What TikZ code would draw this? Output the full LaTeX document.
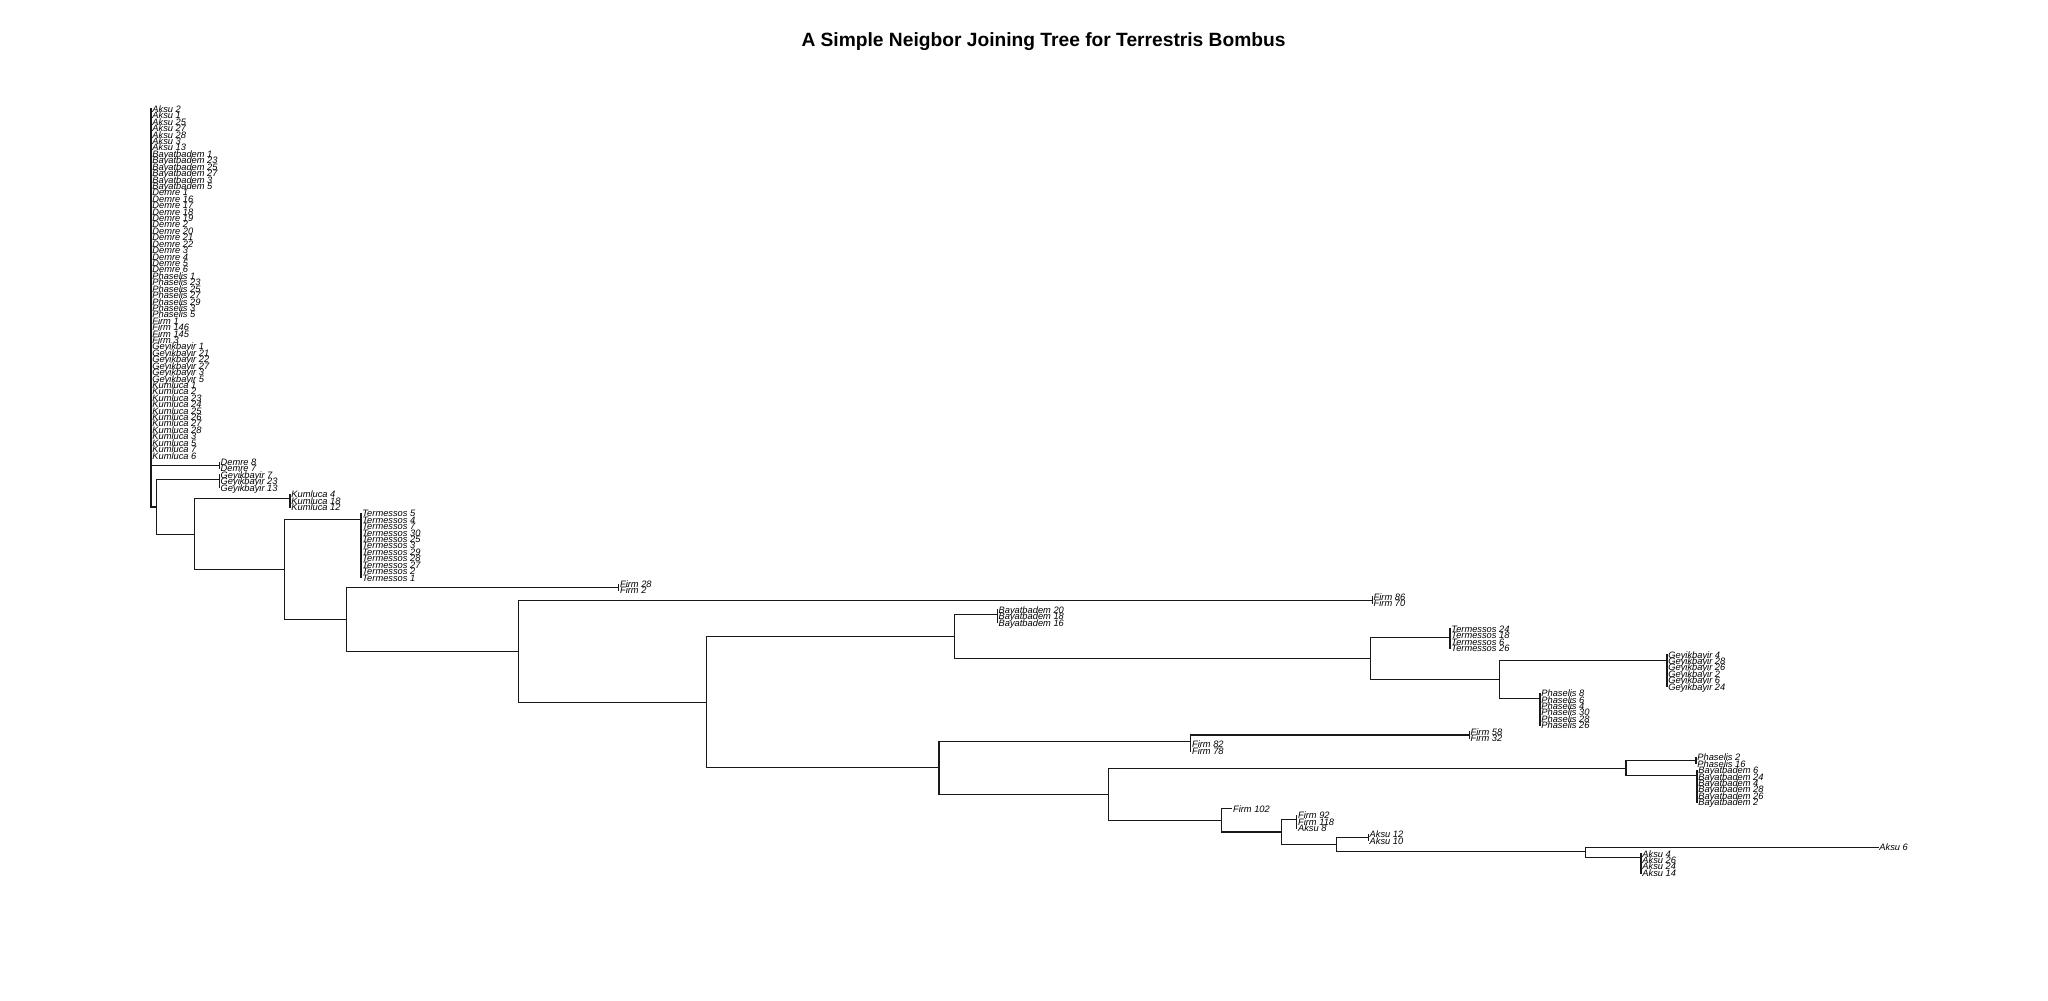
\documentclass[tikz,border=0pt]{standalone}
\usepackage{fontspec}
\setmainfont{Liberation Sans}
% one clade of zero-length tips: labels stacked at x = #2 from tip #3 on, joined by a bar
\newcommand\tipclade[4]{%
  \foreach \lab [count=\k from 0] in {#4}{%
    \node[tip] (#1-\k) at (#2,{109+(#3+\k-1)*6.42}) {\lab};
    \xdef\cladelast{\k}%
  }%
  \draw[br] (#1-0.west) -- (#1-\cladelast.west);
}
\begin{document}
\begin{tikzpicture}[x=0.5pt,y=-0.5pt,
  br/.style={line width=0.55pt, draw=black!90, line cap=rect},
  tip/.style={anchor=west, inner xsep=0.5pt, inner ysep=0pt, text height=3.4pt, text depth=0pt,
              font=\fontsize{4.65}{4.65}\selectfont\itshape, text=black},
  ttl/.style={font=\fontsize{9.6}{11}\selectfont\bfseries, inner sep=0pt}]
\useasboundingbox (0,0) rectangle (2048,1000);

\node[ttl] (title) at (1043.5,41.5) {A Simple Neigbor Joining Tree for Terrestris Bombus};

% ---- tips ----
\tipclade{root}{151}{1}{Aksu 2,Aksu 1,Aksu 25,Aksu 27,Aksu 28,Aksu 3,Aksu 13,
  Bayatbadem 1,Bayatbadem 23,Bayatbadem 25,Bayatbadem 27,Bayatbadem 3,Bayatbadem 5,
  Demre 1,Demre 16,Demre 17,Demre 18,Demre 19,Demre 2,Demre 20,Demre 21,Demre 22,Demre 3,Demre 4,Demre 5,Demre 6,
  Phaselis 1,Phaselis 23,Phaselis 25,Phaselis 27,Phaselis 29,Phaselis 3,Phaselis 5,
  Firm 1,Firm 146,Firm 145,Firm 3,
  Geyikbayir 1,Geyikbayir 21,Geyikbayir 22,Geyikbayir 27,Geyikbayir 3,Geyikbayir 5,
  Kumluca 1,Kumluca 2,Kumluca 23,Kumluca 24,Kumluca 25,Kumluca 26,Kumluca 27,Kumluca 28,Kumluca 3,Kumluca 5,Kumluca 7,Kumluca 6}
\tipclade{dm}{219.3}{56}{Demre 8,Demre 7}
\tipclade{gy}{219.3}{58}{Geyikbayir 7,Geyikbayir 23,Geyikbayir 13}
\tipclade{ku}{290}{61}{Kumluca 4,Kumluca 18,Kumluca 12}
\tipclade{te}{361}{64}{Termessos 5,Termessos 4,Termessos 7,Termessos 30,Termessos 25,Termessos 3,Termessos 29,Termessos 28,Termessos 27,Termessos 2,Termessos 1}
\tipclade{fa}{618.7}{75}{Firm 28,Firm 2}
\tipclade{fb}{1372.3}{77}{Firm 86,Firm 70}
\tipclade{ba}{997.3}{79}{Bayatbadem 20,Bayatbadem 18,Bayatbadem 16}
\tipclade{tb}{1450}{82}{Termessos 24,Termessos 18,Termessos 6,Termessos 26}
\tipclade{gb}{1667}{86}{Geyikbayir 4,Geyikbayir 28,Geyikbayir 26,Geyikbayir 2,Geyikbayir 6,Geyikbayir 24}
\tipclade{pa}{1540}{92}{Phaselis 8,Phaselis 6,Phaselis 4,Phaselis 30,Phaselis 28,Phaselis 26}
\tipclade{fc}{1469.3}{98}{Firm 58,Firm 32}
\tipclade{fd}{1190.7}{100}{Firm 82,Firm 78}
\tipclade{pb}{1696}{102}{Phaselis 2,Phaselis 16}
\tipclade{bb}{1697}{104}{Bayatbadem 6,Bayatbadem 24,Bayatbadem 4,Bayatbadem 28,Bayatbadem 26,Bayatbadem 2}
\node[tip] (f102) at (1231.7,{109+109*6.42}) {Firm 102};
\tipclade{fe}{1296.7}{111}{Firm 92,Firm 118,Aksu 8}
\tipclade{ak}{1368.3}{114}{Aksu 12,Aksu 10}
\node[tip] (a6) at (1878,{109+115*6.42}) {Aksu 6};
\tipclade{al}{1641}{117}{Aksu 4,Aksu 26,Aksu 24,Aksu 14}

% ---- internal nodes ----
\coordinate (R) at (151,308);
\coordinate (A) at (156.7,507);
\coordinate (B) at (194.5,534.2);
\coordinate (C) at (284.5,569.4);
\coordinate (D) at (346.7,619.2);
\coordinate (E) at (518.3,651.1);
\coordinate (F) at (706.7,702.1);
\coordinate (G) at (954.3,636.4);
\coordinate (H) at (1370.3,658.5);
\coordinate (I) at (1499.3,679.6);
\coordinate (J) at (939,767.9);
\coordinate (K) at (1190.7,741.4);
\coordinate (L) at (1108.8,794.3);
\coordinate (M) at (1626,768.2);
\coordinate (N) at (1221.7,820.4);
\coordinate (O) at (1281.7,832);
\coordinate (P) at (1336.7,844.5);
\coordinate (Q) at (1585.7,851.3);

% clade entry points
\coordinate (dmin) at (219.3,465.3);
\coordinate (gyin) at (219.3,479.7);
\coordinate (kuin) at (290,498.9);
\coordinate (tein) at (361,519.7);
\coordinate (fain) at (618.7,587.2);
\coordinate (fbin) at (1372.3,600.1);
\coordinate (bain) at (997.3,614.3);
\coordinate (tbin) at (1450,637.3);
\coordinate (gbin) at (1667,660.5);
\coordinate (pain) at (1540,698.8);
\coordinate (fcin) at (1469.3,735);
\coordinate (pbin) at (1696,760.6);
\coordinate (bbin) at (1697,775.8);
\coordinate (fein) at (1296.7,819.5);
\coordinate (akin) at (1368.3,837.7);
\coordinate (alin) at (1641,857.7);

% ---- branches ----
\draw[br] (R) |- (root-0.west);
\draw[br] (R) |- (dmin);
\draw[br] (R) |- (A);
\draw[br] (A) |- (gyin);
\draw[br] (A) |- (B);
\draw[br] (B) |- (kuin);
\draw[br] (B) |- (C);
\draw[br] (C) |- (tein);
\draw[br] (C) |- (D);
\draw[br] (D) |- (fain);
\draw[br] (D) |- (E);
\draw[br] (E) |- (fbin);
\draw[br] (E) |- (F);
\draw[br] (F) |- (G);
\draw[br] (F) |- (J);
\draw[br] (G) |- (bain);
\draw[br] (G) |- (H);
\draw[br] (H) |- (tbin);
\draw[br] (H) |- (I);
\draw[br] (I) |- (gbin);
\draw[br] (I) |- (pain);
\draw[br] (J) |- (K);
\draw[br] (J) |- (L);
\draw[br] (K) |- (fcin);
\draw[br] (K) |- (fd-1.west);
\draw[br] (L) |- (M);
\draw[br] (L) |- (N);
\draw[br] (M) |- (pbin);
\draw[br] (M) |- (bbin);
\draw[br] (N) |- (f102.west);
\draw[br] (N) |- (O);
\draw[br] (O) |- (fein);
\draw[br] (O) |- (P);
\draw[br] (P) |- (akin);
\draw[br] (P) |- (Q);
\draw[br] (Q) |- (a6.west);
\draw[br] (Q) |- (alin);
\end{tikzpicture}
\end{document}
